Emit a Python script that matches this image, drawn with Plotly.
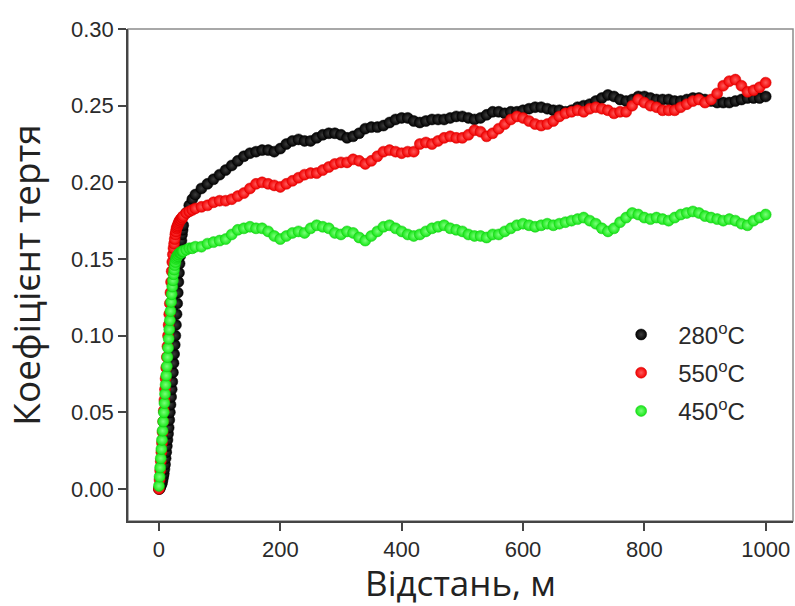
import plotly.graph_objects as go

# Sliding distance, m: dense sampling during running-in, coarser afterwards
distance = list(range(0, 41)) + [45, 50, 55] + list(range(60, 1001, 10))

# Coefficient of friction, 280 °C
cof_280 = [
    0.000, 0.000, 0.001, 0.002, 0.003, 0.004, 0.006, 0.008, 0.010, 0.013,
    0.016, 0.020, 0.024, 0.028, 0.032, 0.036, 0.040, 0.045, 0.050, 0.055,
    0.060, 0.065, 0.070, 0.076, 0.082, 0.088, 0.094, 0.100, 0.107, 0.114,
    0.121, 0.128, 0.135, 0.141, 0.147, 0.152, 0.157, 0.162, 0.166, 0.169,
    0.172,
    0.180, 0.185, 0.189,
    0.192, 0.196, 0.199, 0.202, 0.205, 0.208, 0.211, 0.214, 0.217, 0.219,
    0.220, 0.221, 0.221, 0.220, 0.222, 0.225, 0.227, 0.228, 0.227, 0.227,
    0.229, 0.231, 0.232, 0.232, 0.231, 0.229, 0.230, 0.232, 0.235, 0.236,
    0.236, 0.237, 0.239, 0.241, 0.242, 0.242, 0.240, 0.239, 0.240, 0.241,
    0.241, 0.241, 0.242, 0.243, 0.243, 0.242, 0.241, 0.242, 0.244, 0.246,
    0.246, 0.245, 0.246, 0.246, 0.247, 0.248, 0.249, 0.249, 0.248, 0.247,
    0.247, 0.246, 0.247, 0.249, 0.250, 0.251, 0.253, 0.255, 0.257, 0.256,
    0.254, 0.253, 0.254, 0.256, 0.256, 0.255, 0.254, 0.254, 0.254, 0.253,
    0.253, 0.254, 0.255, 0.255, 0.254, 0.253, 0.252, 0.252, 0.252, 0.253,
    0.254, 0.255, 0.255, 0.255, 0.256,
]

# Coefficient of friction, 550 °C
cof_550 = [
    0.000, 0.006, 0.012, 0.018, 0.024, 0.030, 0.037, 0.044, 0.051, 0.058,
    0.065, 0.072, 0.079, 0.086, 0.093, 0.100, 0.107, 0.114, 0.121, 0.128,
    0.135, 0.142, 0.148, 0.153, 0.157, 0.160, 0.163, 0.166, 0.168, 0.170,
    0.171, 0.172, 0.173, 0.174, 0.175, 0.175, 0.176, 0.176, 0.177, 0.177,
    0.178,
    0.180, 0.181, 0.182,
    0.183, 0.184, 0.185, 0.187, 0.188, 0.188, 0.189, 0.191, 0.193, 0.196,
    0.199, 0.200, 0.199, 0.198, 0.197, 0.199, 0.201, 0.203, 0.205, 0.206,
    0.206, 0.208, 0.210, 0.212, 0.213, 0.213, 0.215, 0.214, 0.212, 0.214,
    0.217, 0.220, 0.221, 0.220, 0.219, 0.220, 0.220, 0.225, 0.226, 0.225,
    0.227, 0.229, 0.230, 0.229, 0.229, 0.231, 0.234, 0.233, 0.230, 0.232,
    0.235, 0.238, 0.241, 0.243, 0.242, 0.240, 0.238, 0.237, 0.238, 0.240,
    0.243, 0.245, 0.246, 0.247, 0.246, 0.248, 0.249, 0.248, 0.247, 0.245,
    0.246, 0.246, 0.250, 0.254, 0.252, 0.250, 0.249, 0.247, 0.247, 0.247,
    0.249, 0.251, 0.253, 0.254, 0.252, 0.254, 0.258, 0.263, 0.266, 0.267,
    0.263, 0.259, 0.260, 0.262, 0.265,
]

# Coefficient of friction, 450 °C
cof_450 = [
    0.002, 0.008, 0.014, 0.020, 0.026, 0.032, 0.038, 0.044, 0.050, 0.056,
    0.062, 0.068, 0.074, 0.080, 0.086, 0.092, 0.098, 0.104, 0.110, 0.116,
    0.122, 0.127, 0.132, 0.136, 0.140, 0.143, 0.146, 0.148, 0.150, 0.151,
    0.152, 0.152, 0.153, 0.153, 0.154, 0.154, 0.154, 0.154, 0.155, 0.155,
    0.155,
    0.156, 0.157, 0.157,
    0.158, 0.158, 0.160, 0.161, 0.162, 0.163, 0.166, 0.169, 0.170, 0.171,
    0.170, 0.170, 0.168, 0.165, 0.163, 0.165, 0.167, 0.168, 0.167, 0.170,
    0.172, 0.171, 0.170, 0.167, 0.166, 0.168, 0.167, 0.164, 0.162, 0.165,
    0.168, 0.171, 0.172, 0.170, 0.168, 0.166, 0.165, 0.166, 0.168, 0.170,
    0.171, 0.172, 0.170, 0.169, 0.168, 0.166, 0.165, 0.165, 0.164, 0.166,
    0.166, 0.168, 0.170, 0.172, 0.173, 0.172, 0.171, 0.172, 0.173, 0.172,
    0.173, 0.174, 0.175, 0.176, 0.177, 0.175, 0.173, 0.170, 0.168, 0.170,
    0.174, 0.177, 0.180, 0.179, 0.177, 0.176, 0.177, 0.176, 0.175, 0.177,
    0.179, 0.180, 0.181, 0.180, 0.178, 0.177, 0.176, 0.175, 0.176, 0.175,
    0.173, 0.172, 0.175, 0.177, 0.179,
]

series_names = ["280<sup>o</sup>C", "550<sup>o</sup>C", "450<sup>o</sup>C"]
series_values = [cof_280, cof_550, cof_450]
series_colors = ["#030303", "#f20000", "#16e616"]
series_shine = ["#3c3c3c", "#ff5a5a", "#7aff7a"]
series_edges = ["#000000", "#d40000", "#12c812"]

fig = go.Figure()
for i, (name, vals) in enumerate(zip(series_names, series_values)):
    fig.add_trace(go.Scatter(
        x=distance,
        y=vals,
        mode="markers",
        name=name,
        legendgroup=f"g{i}",
        marker=dict(
            symbol="circle",
            size=11,
            color=series_colors[i],
            gradient=dict(type="radial", color=series_shine[i]),
            line=dict(width=0.5, color=series_edges[i]),
        ),
    ))

axis_line = "#454545"
tick_font = dict(family="Liberation Sans, Arial, sans-serif", size=22, color="#2a2a2a")
title_font_family = "Open Sans, Noto Sans, sans-serif"

# Light frame around the plotting area; the left and bottom axis lines sit on top of it
fig.add_shape(
    type="rect", xref="paper", yref="paper", x0=0, x1=1, y0=0, y1=1,
    line=dict(color="#8c8c8c", width=1.5), layer="below",
)

fig.update_layout(
    width=795,
    height=606,
    margin=dict(l=128, r=2, t=29, b=85),
    paper_bgcolor="white",
    plot_bgcolor="white",
    showlegend=True,
    legend=dict(
        x=0.716,
        y=0.424,
        xanchor="left",
        yanchor="top",
        bgcolor="rgba(0,0,0,0)",
        font=dict(family="Liberation Sans, Arial, sans-serif", size=24, color="#2a2a2a"),
        itemwidth=64,
        tracegroupgap=4,
        traceorder="grouped",
    ),
    xaxis=dict(
        range=[-51, 1045],
        tickmode="array",
        tickvals=[0, 200, 400, 600, 800, 1000],
        ticktext=["0", "200", "400", "600", "800", "1000"],
        ticks="outside",
        ticklen=8,
        tickwidth=1.5,
        tickcolor=axis_line,
        showline=True,
        linecolor=axis_line,
        linewidth=1.5,
        showgrid=False,
        zeroline=False,
        tickfont=tick_font,
        title=dict(
            text="Відстань, м",
            font=dict(family=title_font_family, size=35, color="#222222"),
            standoff=12,
        ),
    ),
    yaxis=dict(
        range=[-0.0209, 0.30],
        tickmode="array",
        tickvals=[0.00, 0.05, 0.10, 0.15, 0.20, 0.25, 0.30],
        ticktext=["0.00", "0.05", "0.10", "0.15", "0.20", "0.25", "0.30"],
        ticks="outside",
        ticklen=8,
        tickwidth=1.5,
        tickcolor=axis_line,
        showline=True,
        linecolor=axis_line,
        linewidth=1.5,
        showgrid=False,
        zeroline=False,
        tickfont=tick_font,
        title=dict(
            text="Коефіцієнт тертя",
            font=dict(family=title_font_family, size=37, color="#222222"),
            standoff=26,
        ),
    ),
)

fig.write_html("out.html")
